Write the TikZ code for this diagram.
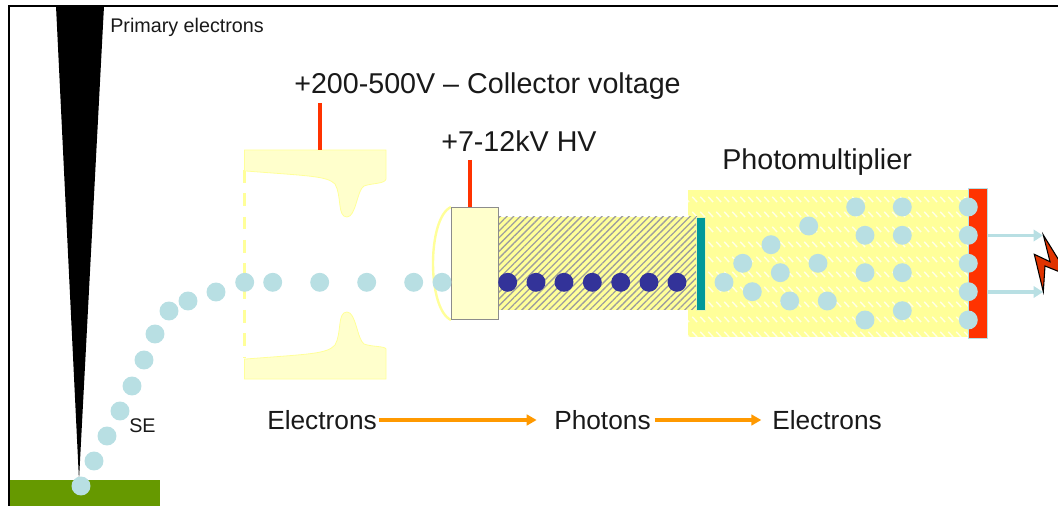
\documentclass[tikz,border=0pt]{standalone}
\usepackage{fontspec}
\setmainfont{Liberation Sans}
\usetikzlibrary{arrows.meta,patterns.meta}
\definecolor{dotblue}{HTML}{B8DFE3}
\definecolor{photon}{HTML}{333399}
\definecolor{paleyellow}{HTML}{FFFFCC}
\definecolor{tubeyellow}{HTML}{FFFF99}
\definecolor{leadred}{HTML}{FF3300}
\definecolor{boltred}{HTML}{E03300}
\definecolor{plate}{HTML}{009999}
\definecolor{ground}{HTML}{669900}
\definecolor{flow}{HTML}{FF9900}
\pgfdeclarepatternformonly{pmtdash}{\pgfqpoint{0pt}{-3pt}}{\pgfqpoint{6.25pt}{8.6pt}}{\pgfqpoint{6.25pt}{11.6pt}}{
	\pgfsetlinewidth{1.1pt}
	\pgfpathmoveto{\pgfqpoint{1pt}{3.3pt}}
	\pgfpathlineto{\pgfqpoint{5pt}{-0.7pt}}
	\pgfusepath{stroke}
}
\tikzset{
  edot/.style = {circle, inner sep=0pt, minimum size=14.2pt, fill=dotblue},
  pdot/.style = {circle, inner sep=0pt, minimum size=14.2pt, fill=photon},
  biglabel/.style = {inner sep=0pt, font=\fontsize{21.5}{24}\selectfont, text=black!90},
  chainlabel/.style = {inner sep=0pt, font=\fontsize{19.7}{22}\selectfont, text=black!90},
  smalllabel/.style = {inner sep=0pt, font=\fontsize{14.8}{17}\selectfont, text=black!90},
  lead/.style = {draw=leadred, line width=3pt},
  flowarrow/.style = {draw=flow, line width=2.4pt, -{Triangle[length=7.5pt,width=8pt]}},
  outarrow/.style = {draw=dotblue, line width=2.3pt, -{Triangle[length=7pt,width=8.5pt]}},
  cup/.style = {fill=paleyellow, draw=tubeyellow, line width=0.6pt}
}
\begin{document}
\begin{tikzpicture} [x=0.75pt, y=-0.75pt]
		\useasboundingbox (0,0) rectangle (1058,506);
		% frame and specimen
		\draw [black, line width=1.5pt] (9,506) -- (9,6) -- (1058,6);
		\fill [ground] (10,480) rectangle (160,506);
		\fill [black] (56,6) -- (104,6) -- (79,480) -- cycle;
		\node [smalllabel, anchor=west] (primary) at (110,27) {Primary electrons};
		\node [smalllabel, anchor=west] (se) at (129,426) {SE};
		% collector
		\draw [tubeyellow, line width=2.4pt, dash pattern=on 9.5pt off 8pt] (244.5,170) -- (244.5,358);
		\draw [cup] (244.5,150) -- (386,150) -- (386,179)
			.. controls (385,184) and (372,183) .. (364,186)
			.. controls (357,190) and (356,217) .. (347,217)
			.. controls (337,217) and (342,196) .. (335,184)
			.. controls (327,176) and (310,176) .. (246,171) -- (244.5,171) -- cycle;
		\draw [cup] (244.5,379) -- (386,379) -- (386,349)
			.. controls (385,346) and (372,347) .. (364,344)
			.. controls (357,339) and (356,312) .. (347,312)
			.. controls (337,312) and (342,333) .. (335,345)
			.. controls (327,354) and (310,354) .. (246,359) -- (244.5,359) -- cycle;
		\coordinate (collector) at (320,150);
		\coordinate (collectortop) at (320,103);
		\draw [lead] (collectortop) -- (collector);
		\node [biglabel, anchor=west] (collectorlabel) at (294,86) {+200-500V – Collector voltage};
		% photomultiplier
		\fill [tubeyellow] (688,190) rectangle (969,337);
		\fill [pattern=pmtdash, pattern color=white!75!tubeyellow] (688,190) rectangle (969,337);
		\fill [leadred, draw=dotblue, line width=0.6pt] (968.5,188.5) rectangle (987.5,338);
		\node [biglabel, anchor=west] (pmtlabel) at (722,162) {Photomultiplier};
		% scintillator
		\fill [tubeyellow] (499,217) rectangle (697,310);
		\fill [pattern={Lines[angle=45, distance=3.6pt, line width=1pt]}, pattern color=black!38] (499,217) rectangle (697,310);
		\fill [plate, draw=tubeyellow!70!dotblue, line width=0.5pt] (696.5,217) rectangle (705.5,310);
		\draw [tubeyellow, line width=1.8pt] (451,207) .. controls (427,218) and (427,309) .. (451,320);
		\node [draw=black!45, fill=paleyellow, line width=0.8pt, inner sep=0pt, minimum width=35pt, minimum height=84.5pt] (hvbox) at (475,263.5) {};
		\coordinate (hvtop) at (470,160);
		\draw [lead] (hvtop) -- (hvtop |- hvbox.north);
		\node [biglabel, anchor=west] (hvlabel) at (441,141) {+7-12kV HV};
		% secondary electrons
		\node [edot] at (81,486) {};
		\node [edot] at (94,461) {};
		\node [edot] at (107,436) {};
		\node [edot] at (120,411) {};
		\node [edot] at (132,386) {};
		\node [edot] at (144,360) {};
		\node [edot] at (155,334) {};
		\node [edot] at (169,311) {};
		\node [edot] at (188,301) {};
		\node [edot] at (216,292) {};
		\node [edot] at (244.7,282.3) {};
		\node [edot] at (272.7,282.3) {};
		\node [edot] at (319.7,282.3) {};
		\node [edot] at (366.7,282.3) {};
		\node [edot] at (413.7,282.3) {};
		\node [edot] at (442,282.3) {};
		% photons
		\node [pdot] at (507.7,282.3) {};
		\node [pdot] at (536,282.3) {};
		\node [pdot] at (564,282.3) {};
		\node [pdot] at (592.3,282.3) {};
		\node [pdot] at (620.7,282.3) {};
		\node [pdot] at (649,282.3) {};
		\node [pdot] at (677,282.3) {};
		% electron cascade
		\node [edot] at (724,282.3) {};
		\node [edot] at (742.7,263.3) {};
		\node [edot] at (752.3,291.7) {};
		\node [edot] at (771,244.7) {};
		\node [edot] at (780.3,272.7) {};
		\node [edot] at (789.7,301) {};
		\node [edot] at (808.7,226) {};
		\node [edot] at (818,263.3) {};
		\node [edot] at (827.3,301) {};
		\node [edot] at (855.7,207) {};
		\node [edot] at (865,235.3) {};
		\node [edot] at (865,272.7) {};
		\node [edot] at (865,320) {};
		\node [edot] at (902.3,207) {};
		\node [edot] at (902.3,235.3) {};
		\node [edot] at (902.3,272.7) {};
		\node [edot] at (902.3,310.7) {};
		\node [edot] at (968.3,207) {};
		\node [edot] at (968.3,235.3) {};
		\node [edot] at (968.3,263.3) {};
		\node [edot] at (968.3,291.7) {};
		\node [edot] at (968.3,320) {};
		% output signal
		\coordinate (outa) at (987.5,235.5);
		\coordinate (outb) at (987.5,292);
		\coordinate (bolta) at (1043,235.5);
		\coordinate (boltb) at (1043,292);
		\draw [outarrow] (outa) -- (bolta);
		\draw [outarrow] (outb) -- (boltb);
		\filldraw [fill=boltred, draw=black, line width=0.8pt] (1043.3,235) -- (1060,262) -- (1060,272) -- (1045,266) -- (1043.3,291.7) -- (1034.3,254.3) -- (1050,261.7) -- cycle;
		% conversion chain
		\node [chainlabel, anchor=west] (electronsa) at (267,420) {Electrons};
		\node [chainlabel, anchor=west] (photons) at (554,420) {Photons};
		\node [chainlabel, anchor=west] (electronsb) at (772,420) {Electrons};
		\draw [flowarrow] ([xshift=1.5pt]electronsa.east) -- ([xshift=-13pt]photons.west);
		\draw [flowarrow] ([xshift=3pt]photons.east) -- ([xshift=-8pt]electronsb.west);
\end{tikzpicture}
\end{document}
